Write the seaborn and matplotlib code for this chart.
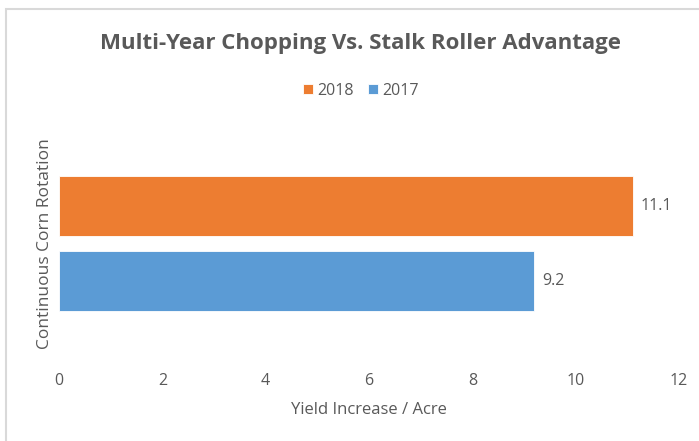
import pandas as pd
import seaborn as sns
from matplotlib import pyplot as plt
from matplotlib.patches import Rectangle

categories = ["Continuous Corn Rotation"]
years = ["2018", "2017"]
values_2018 = [11.1]
values_2017 = [9.2]
colors = {"2018": "#ED7D31", "2017": "#5B9BD5"}

df = pd.DataFrame({
    "category": categories * 2,
    "year": ["2018"] * len(categories) + ["2017"] * len(categories),
    "value": values_2018 + values_2017,
})

sns.set_style("white")
plt.rcParams["font.family"] = ["Open Sans", "DejaVu Sans"]
grey = "#595959"

fig = plt.figure(figsize=(6.99, 4.41), dpi=100)
ax = fig.add_axes([59 / 699, (441 - 337.25) / 441, 620 / 699, 187.5 / 441])

sns.barplot(data=df, x="value", y="category", hue="year", hue_order=years,
            palette=colors, orient="h", gap=0.2, width=0.8, ax=ax,
            saturation=1, edgecolor="white", linewidth=0.6)

for c in ax.containers:
    ax.bar_label(c, fmt="%.1f", padding=6, color=grey, fontsize=11.5)

ax.set_xlim(0, 12)
ax.set_xticks(range(0, 13, 2))
ax.tick_params(axis="x", length=0, pad=26, labelsize=11.5, labelcolor=grey)
ax.tick_params(axis="y", length=0, pad=4.5, labelsize=12.5, labelcolor=grey)
for lbl in ax.get_yticklabels():
    lbl.set_rotation(90)
    lbl.set_va("center")
ax.set_ylabel("")
ax.set_xlabel("Yield Increase / Acre", fontsize=12, color=grey, labelpad=9)
for s in ax.spines.values():
    s.set_visible(False)

leg = ax.legend(loc="center", bbox_to_anchor=(361 / 699, 1 - 91 / 441),
                bbox_transform=fig.transFigure, ncol=2, frameon=False,
                handlelength=0.6, handleheight=0.6, handletextpad=0.3,
                columnspacing=0.9, fontsize=11.5)
for t in leg.get_texts():
    t.set_color(grey)

fig.text(360 / 699, 1 - 44 / 441, "Multi-Year Chopping Vs. Stalk Roller Advantage",
         ha="center", va="center", fontsize=16, fontweight="bold", color=grey)

fig.add_artist(Rectangle((6 / 699, -0.1), 2, 1 - 9 / 441 + 0.1,
                         transform=fig.transFigure, fill=False,
                         edgecolor="#D9D9D9", linewidth=1.5))

fig.savefig("out.png", dpi=100)
